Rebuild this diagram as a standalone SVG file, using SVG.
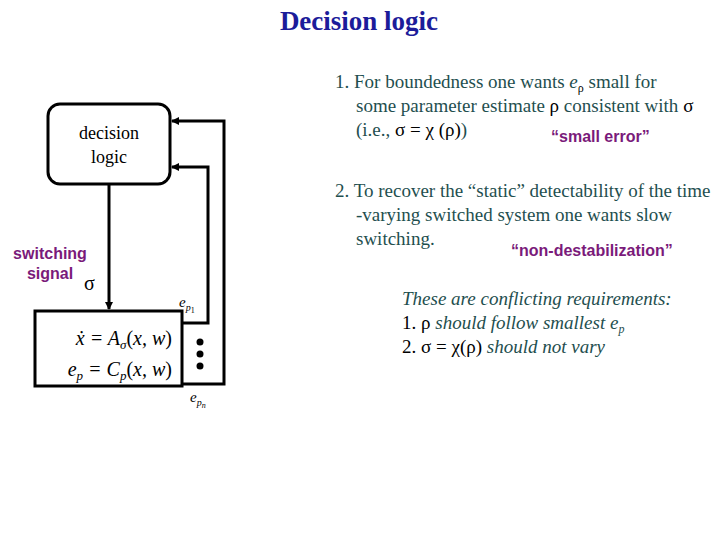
<svg xmlns="http://www.w3.org/2000/svg" width="720" height="540" viewBox="0 0 720 540">
<defs>
<marker id="ah" markerWidth="8" markerHeight="8" refX="7" refY="4" orient="auto" markerUnits="userSpaceOnUse"><path d="M0,0 L8,4 L0,8 z" fill="#000"/></marker>
<style>
.t{font-family:"Liberation Serif",serif;font-size:19px;fill:#1f4f4f}
.g{fill:#000}
.q{font-family:"Liberation Sans",sans-serif;font-size:16px;font-weight:bold;fill:#7a1a7a}
.i{font-family:"Liberation Serif",serif;font-size:19px;font-style:italic;fill:#1f4f4f}
.m{font-family:"Liberation Serif",serif;font-style:italic;fill:#000}
.ln{fill:none;stroke:#000;stroke-width:3}
</style>
</defs>
<rect width="720" height="540" fill="#fff"/>
<text x="359" y="30" text-anchor="middle" font-family="Liberation Serif,serif" font-size="27" font-weight="bold" fill="#1c1c9a">Decision logic</text>
<g id="decision"><rect x="48" y="104" width="122" height="80" rx="12" fill="#fff" stroke="#000" stroke-width="3"/>
<text x="109" y="139" text-anchor="middle" font-family="Liberation Serif,serif" font-size="18">decision</text>
<text x="109" y="163" text-anchor="middle" font-family="Liberation Serif,serif" font-size="18">logic</text></g>
<g id="plant"><rect x="35" y="311" width="147" height="75" fill="#fff" stroke="#000" stroke-width="3"/>
<text x="172" y="345" text-anchor="end" class="m" font-size="20">ẋ = A<tspan font-size="13" dy="4">σ</tspan><tspan dy="-4" font-style="normal">(</tspan>x, w<tspan font-style="normal">)</tspan></text>
<text x="172" y="376" text-anchor="end" class="m" font-size="20">e<tspan font-size="13" dy="4">p</tspan><tspan dy="-4"> = C</tspan><tspan font-size="13" dy="4">p</tspan><tspan dy="-4" font-style="normal">(</tspan>x, w<tspan font-style="normal">)</tspan></text></g>
<g id="connectors">
<line x1="109" y1="184" x2="109" y2="309" class="ln" stroke-width="2" marker-end="url(#ah)"/>
<polyline points="182,323 208,323 208,167 172,167" class="ln" marker-end="url(#ah)"/>
<polyline points="182,384 224,384 224,121 172,121" class="ln" marker-end="url(#ah)"/>
<circle cx="200" cy="342" r="3.5" class="g"/><circle cx="200" cy="354" r="3.5" class="g"/><circle cx="200" cy="366" r="3.5" class="g"/>
</g>
<text x="179" y="307" class="m" font-size="15">e<tspan font-size="10" dy="4">p</tspan><tspan font-size="8" dy="2" font-style="normal">1</tspan></text>
<text x="190" y="402" class="m" font-size="15">e<tspan font-size="10" dy="4">p</tspan><tspan font-size="8" dy="2">n</tspan></text>
<text x="50" y="259" text-anchor="middle" class="q" font-size="14">switching</text>
<text x="50" y="279" text-anchor="middle" class="q" font-size="14">signal</text>
<text x="84" y="290" font-family="Liberation Serif,serif" font-size="20">σ</text>
<text x="335" y="88" class="t">1. For boundedness one wants <tspan font-style="italic">e</tspan><tspan font-size="12" dy="4" fill="#000">ρ</tspan><tspan dy="-4"> small for</tspan></text>
<text x="356" y="112" class="t">some parameter estimate <tspan fill="#000">ρ</tspan> consistent with <tspan fill="#000">σ</tspan></text>
<text x="356" y="136" class="t">(i.e., <tspan fill="#000">σ = χ (ρ)</tspan>)</text>
<text x="551" y="142" class="q">“small error”</text>
<text x="335" y="197" class="t">2. To recover the “static” detectability of the time</text>
<text x="356" y="221" class="t">-varying switched system one wants slow</text>
<text x="356" y="245" class="t">switching.</text>
<text x="511" y="256" class="q">“non-destabilization”</text>
<text x="402" y="305" class="i">These are conflicting requirements:</text>
<text x="402" y="329" class="i"><tspan font-style="normal" fill="#000">1. ρ</tspan> should follow smallest e<tspan font-size="12" dy="4">p</tspan></text>
<text x="402" y="353" class="i"><tspan font-style="normal" fill="#000">2. σ = χ(ρ)</tspan> should not vary</text>
</svg>
